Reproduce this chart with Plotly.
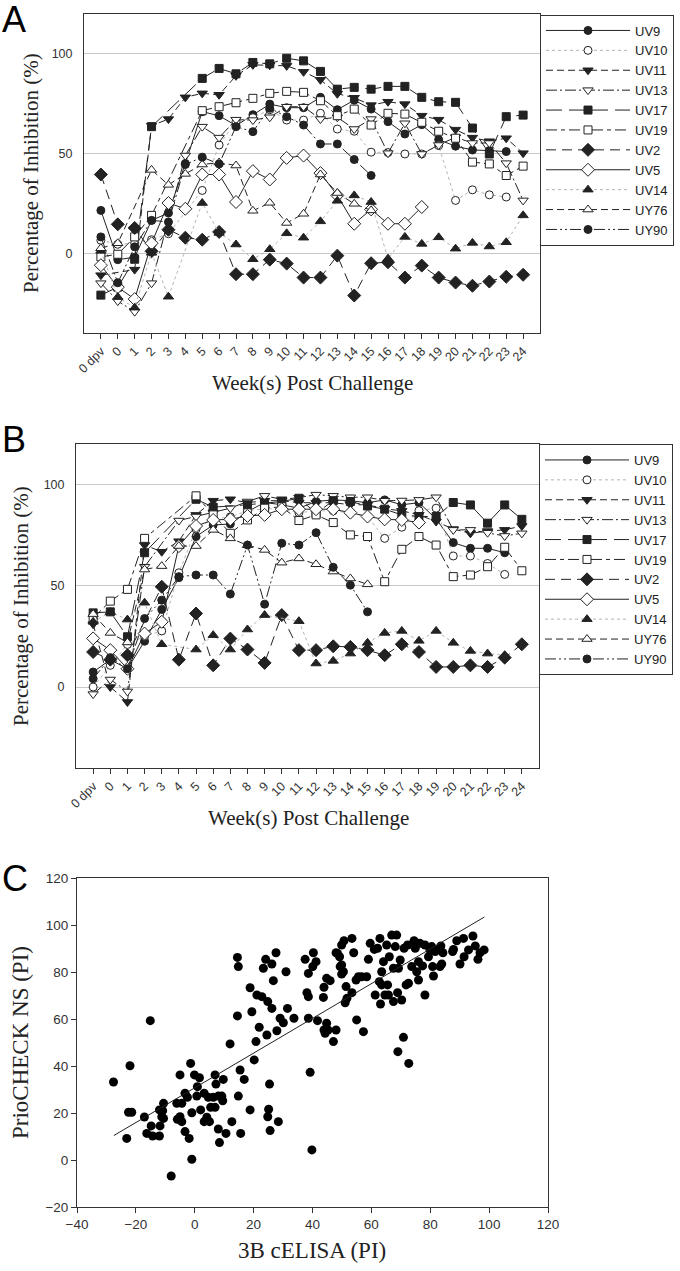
import plotly.graph_objects as go

N = None

# ---------------- categories / labels ----------------
categories = ["0 dpv", "0", "1", "2", "3", "4", "5", "6", "7", "8", "9", "10", "11",
              "12", "13", "14", "15", "16", "17", "18", "19", "20", "21", "22", "23", "24"]
series_names = ["UV9", "UV10", "UV11", "UV13", "UV17", "UV19", "UV2", "UV5", "UV14", "UY76", "UY90"]

# ---------------- Panel A values (% inhibition) ----------------
a_UV9 = [21.5, -3.2, -2, 16.5, 20.2, 45, 71, 69, 64, 69.5, 74.8, 73, 73, 78.2, 72, 76.8, 72.3, 66, 59.8, 64.5, 57, 53.7, 51.8, 51.5, 51, N]
a_UV10 = [6.5, 4.5, 5, 6.8, 9.8, N, 31.5, 54.3, 66, 68, 72, 66.8, 66.8, 70.2, 62.3, 61.2, 50.7, 50.5, 49.8, 49.8, 54, 26.5, 31.8, 29.3, 28.2, N]
a_UV11 = [-11, N, -8.2, 64, 67.3, 78.2, 80.2, 79.5, 89, 94.5, 94.3, 94, 91, 87, 80, 78, 74.3, 76, 74.8, 69, 67, 62, 58, 56.2, 57.7, 50.2]
a_UV13 = [-15, -24, -29.3, -15, N, 49, 63.5, 58, 67, 66.8, 68.2, 73.5, 73.5, 67.3, 68.2, 62.3, 67.3, 50.2, 65.2, 49.8, 54.3, 58.2, 55.3, 55.3, 45.2, 26.5]
a_UV17 = [-21, -17, -3, 63.5, N, N, 87.7, 92.7, 90, 95.7, 95, 97.8, 96.5, 91.2, 82.3, 83.2, 82.3, 83.7, 83.7, 78.2, 76, 75.7, 62.8, 49.8, 68.5, 69.3]
a_UV19 = [-1.8, -0.5, 8.2, 19, N, N, 71.5, 73.5, 75.5, 77.7, 80.2, 81.2, 80.7, 76.5, 69, 72.3, 64.3, 70.2, 69.8, 65.7, 61.2, 57.7, 45.7, 44.8, 39, 43.7]
a_UV2 = [39.5, 14.5, 12.7, 1, 11.8, 7.8, 6.8, 10.7, -10.5, -10.5, -3.2, -5.2, -12.2, -12.2, -1.2, -21.2, -5, -4.5, -12.2, -6.2, -12.2, -14.7, -16.3, -14.2, -11.8, -10.8]
a_UV5 = [-6, -17, -23, 5, 25.2, 22.3, 39.5, 39.5, 25.7, 41.2, 37, 47.8, 49, 40.2, 29, 14.8, 22, 14.8, 14.8, 23.2, N, N, N, N, N, N]
a_UV14 = [1.2, -22, -27.3, 0.2, -21.8, N, 25.2, 10.2, 4.4, -3, 2, 10, 7.8, 16, 26.3, 29, 25.7, -2.7, 8.2, 4.7, 8, 2.3, 5.2, 3.4, 5.5, 19]
a_UY76 = [2.5, 5, N, 41.8, 34.3, 39.8, 44.5, 45.5, 44, 21.3, 25.3, 15.2, 19.8, 39.5, 30.2, 24.8, 21.5, N, N, N, N, N, N, N, N, N]
a_UY90 = [8.2, -14.8, 3.2, 16.5, 15.7, 44.5, 48.2, 44.8, 63.5, 61, 72.7, 68.5, 64.3, 54.8, 54.8, 47, 39, N, N, N, N, N, N, N, N, N]

# ---------------- Panel B values (% inhibition) ----------------
b_UV9 = [7.4, 13.5, 9, 22.6, 38.3, 54, 74.3, 80, 80.5, 86.6, 91.1, 90, 88.3, 91.6, 92.4, 92, 91, 92.4, 90, 91, 83, 71.3, 68.5, 68.5, 66.3, N]
b_UV10 = [0, 10.7, 21, 25, 27.7, 56.4, 78, 83, 84, 87, 88, 88, 86.1, 87, 87, 86, 84.2, 73.4, 78.9, 87.1, 88.3, 64.7, 64.7, 61, 55.6, N]
b_UV11 = [31, 0, -7.4, 70.1, 66.8, 72, 85, 92, 92.7, 91, 92, 92, 91, 91, 91, 90, 90, 88, 87, 85, 81.7, 78, 75.9, 77, 77.6, 79.5]
b_UV13 = [-3.5, 3.7, -2.2, 59.4, N, 82.2, 84.2, 86, 88.3, 91.6, 94.4, 92.7, 93.5, 95, 94.4, 93.7, 93.7, 92, 92.1, 92.4, 93.7, 77.6, 77.6, 76.2, 74.6, 75.9]
b_UV17 = [36.6, 37.1, 24.8, 66.3, N, N, 92.7, 88.8, N, 90, 90.8, 91.6, 93.2, 85.8, 92, 91.6, 89.4, 87.8, 85, 84.2, 84.2, 91.1, 89.9, 80.9, 89.9, 82.8]
b_UV19 = [34, 42.4, 48.2, 73.4, N, N, 94.4, 85, 75.9, 82.5, 88.3, 89, 82.2, 85, 81.2, 75.1, 74.3, 52, 68, 74.3, 70.1, 54.5, 55.3, 59.4, 69, 57.4]
b_UV2 = [17.3, 13.5, 15.7, N, 49.5, 13.5, 36.3, 10.7, 23.9, 18.5, 11.9, 35.5, 18.2, 18.2, 20.1, 19.8, 18.2, 15.7, 21.1, 17.3, 9.9, 9.9, 10.7, 9.9, 14.5, 21.1]
b_UV5 = [24, 18.2, 9, 26.4, 32.2, 69.6, 79.5, 82.5, 82.8, 84.5, 85, 87.8, 87.8, 87.8, 87.8, 86.1, 84.2, 82.8, 82.5, 81.2, N, N, N, N, N, N]
b_UV14 = [32.2, 37, 33.3, 41.6, 21.1, N, 18.5, 25.6, 18.5, 28.4, 35.5, N, 32.5, 11.6, 12.9, 16.5, 21.8, 26.7, 27.7, 22.8, 27.7, 21.8, 17.8, 16.5, 15.7, N]
b_UY76 = [36, 26.7, 22, 58, 59.7, 69.6, 69.6, 77.6, 73.4, 70, 67.7, 61.4, 63.5, 60.6, 57, 53.6, 50.7, N, N, N, N, N, N, N, N, N]
b_UY90 = [4.1, 14.5, 9, 33.8, 42.9, 54.5, 55.3, 55.3, 45.9, 70.1, 40.9, 71, 70.1, 76.2, 59.1, 50.3, 37.1, N, N, N, N, N, N, N, N, N]

# ---------------- Panel C values ----------------
c_x = [-27.6, -23.1, -22, -22.5, -21.4, -17.1, -16.3, -15.1, -14.8, -14.3, -12, -12, -11.8, -10.6, -10.6,
       -10.9, -11.2, -8, -5, -6.1, -4.4, -5.9, -4.4, -5, -3.3, -3.3, -2.5, -1.9, -1.4, -1, -1, -0.1, 0.7,
       0.9, 1.6, 2, 3.2, 3.2, 4.1, 4.6, 5, 5.4, 6.3, 6.9, 7.2, 6.9, 8, 8, 8.4, 9.2, 9.5, 9.7, 10.6, 12,
       12.6, 14.5, 14.8, 14.5, 14.8, 15.4, 15.6, 16.8, 18.8, 19.4, 18.8, 20.2, 20.8, 21.1, 21.9, 22.8,
       23.3, 24.1, 24.5, 24.8, 25.1, 24.8, 25.4, 25.6, 26.2, 26.2, 26.7, 27.6, 27.9, 28.4, 29, 30.1, 31,
       31.5, 33.7,
       37.5, 38.6, 38.1, 38.6, 38.6, 39.2, 39.8, 40.1, 40.3, 41.2, 41.7, 43.7, 43.9, 43.9, 44.3, 44.8,
       44.8, 45.3, 46, 47.1, 48, 48, 48.5, 49.2, 49.4, 49.9, 49.9, 50.5, 49.9, 50.7, 51.4, 51.1, 51.7,
       53.4, 53.4, 54, 55, 54.8, 55.6, 56.7, 57.3, 58.4, 59, 59.6, 61, 61.3, 62.1, 62.9, 62.7, 63.1,
       63.5, 63.5, 64.1, 64.6, 65.2, 65.5, 65.8, 66.1, 66.9, 67.5, 67.5, 68.1, 68.6, 68.9, 69, 69.2,
       69.8, 70.3, 70.9, 71.1, 71.8, 72.3, 72.6, 72.7, 73.7, 74.5, 74.9, 75.4, 76, 76, 76.5, 77.4, 78.2,
       78.2, 79.4, 79.9, 80.5, 80.8, 81.1, 81.7, 82.8, 83.6, 83.9, 84.3, 83.3, 87.6, 87.9, 89, 90.1,
       91.3, 91.5, 93, 94.5, 95.3, 96.2, 96.9, 98.3]
c_y = [33.2, 9.2, 40.1, 20.3, 20.3, 18.3, 11.3, 59.3, 14.5, 10.2, 10.2, 21.3, 14.5, 24.1, 17.7,
       21, 18.4, -6.8, 36.2, 24.1, 24.1, 17.3, 16.3, 18.4, 28.4, 12.1, 26.7, 9.2, 41.1, 20.1, 0.3, 36.2, 27.2,
       31.2, 35, 21.3, 28.4, 16.3, 18.2, 26.7, 16.3, 22.4, 26.7, 36.2, 32.3, 22.4, 13.2, 27.2, 7.4, 27.2, 25.2, 34.3, 11.3, 49.4,
       16.3, 86.2, 82.3, 61.3, 27.2, 38.3, 11.3, 34.3, 73.3, 63.1, 21.3, 42.6, 50.4, 70.2, 56.5, 69.5,
       81.6, 85.4, 53.2, 67.4, 21.6, 18.4, 32.3, 12.5, 83.4, 64.5, 76.3, 88.2, 55, 16.3, 60.3, 58.4, 80.1,
       64.5, 60.3,
       85.4, 79.4, 71.2, 69.5, 60.3, 37.3, 4.3, 82.3, 88.2, 84.4, 59.3, 69.2, 73.5, 55.3, 53.9, 58.2,
       77.3, 55.3, 76.3, 50.4, 55.3, 88.2, 87.9, 86.5, 82.3, 79.1, 83, 80.1, 91.5, 93.3, 73.8, 66.9, 68.8,
       94.3, 71.2, 88.2, 59.6, 76.6, 78, 78, 54.6, 78, 85.4, 92.2, 89.6, 70.2, 90.1, 94.3, 75.9, 66.4,
       80.1, 74.5, 84.4, 70.2, 91.5, 74.5, 70.2, 86.5, 95.7, 67.4, 81.6, 90.8, 95.7, 71.2, 46.1, 81.6,
       85.1, 68.1, 52.2, 90.1, 74.5, 91.5, 75.2, 41.1, 82.3, 93.3, 90.1, 80.1, 76.6, 84.4, 92.2, 82.6, 70.2,
       91.5, 86.5, 89.4, 90.8, 82.3, 78.3, 88.7, 89.6, 91.1, 83.4, 88.2, 82.3, 88.7, 89.6, 93.3, 83.4,
       94.3, 86.5, 89.4, 95.3, 91.1, 85.4, 88.2, 89.4]
fit_x = [-27.5, 98.4]
fit_y = [10.4, 103.4]

# ---------------- styles ----------------
DARK = "#222222"
GRAYDOT = "#b4b4b4"
styles = {
    "UV9":  dict(symbol="circle", fill=DARK, dash="solid", lc=DARK, size=8),
    "UV10": dict(symbol="circle", fill="white", dash="dot", lc=GRAYDOT, size=8),
    "UV11": dict(symbol="triangle-down", fill=DARK, dash="7px,4px", lc=DARK, size=9),
    "UV13": dict(symbol="triangle-down", fill="white", dash="11px,3px,2px,3px", lc=DARK, size=9),
    "UV17": dict(symbol="square", fill=DARK, dash="16px,7px", lc=DARK, size=8),
    "UV19": dict(symbol="square", fill="white", dash="11px,4px,4px,4px", lc=DARK, size=8),
    "UV2":  dict(symbol="diamond", fill=DARK, dash="10px,6px", lc=DARK, size=10),
    "UV5":  dict(symbol="diamond", fill="white", dash="solid", lc=DARK, size=10),
    "UV14": dict(symbol="triangle-up", fill=DARK, dash="dot", lc=GRAYDOT, size=9),
    "UY76": dict(symbol="triangle-up", fill="white", dash="7px,4px", lc=DARK, size=9),
    "UY90": dict(symbol="circle", fill=DARK, dash="11px,3px,2px,3px,2px,3px", lc=DARK, size=8),
}

panel_a = [a_UV9, a_UV10, a_UV11, a_UV13, a_UV17, a_UV19, a_UV2, a_UV5, a_UV14, a_UY76, a_UY90]
panel_b = [b_UV9, b_UV10, b_UV11, b_UV13, b_UV17, b_UV19, b_UV2, b_UV5, b_UV14, b_UY76, b_UY90]

fig = go.Figure()


def add_panel(values_list, xa, ya, legend_name):
    for name, vals in zip(series_names, values_list):
        s = styles[name]
        fig.add_trace(go.Scatter(
            x=categories, y=vals, name=name, mode="lines+markers",
            connectgaps=True, xaxis=xa, yaxis=ya, legend=legend_name,
            line=dict(color=s["lc"], width=1, dash=s["dash"]),
            marker=dict(symbol=s["symbol"], size=s["size"], color=s["fill"],
                        line=dict(color=DARK, width=1)),
        ))


add_panel(panel_a, "x", "y", "legend")
add_panel(panel_b, "x2", "y2", "legend2")

fig.add_trace(go.Scatter(x=c_x, y=c_y, mode="markers", xaxis="x3", yaxis="y3", showlegend=False,
                         marker=dict(symbol="circle", size=9, color="black")))
fig.add_trace(go.Scatter(x=fit_x, y=fit_y, mode="lines", xaxis="x3", yaxis="y3", showlegend=False,
                         line=dict(color=DARK, width=1)))

W, H = 680, 1271
SANS = "Liberation Sans, Arial, sans-serif"
SERIF = "Liberation Serif, Times New Roman, serif"
AX = "#333333"


def px_x(p):
    return p / W


def px_y(p):
    return 1 - p / H


cat_axis = dict(type="category", categoryorder="array", categoryarray=categories,
                range=[-1, 26], tickmode="linear", tick0=0, dtick=1, tickangle=-45,
                ticks="outside", ticklen=5, tickcolor=AX, showline=True, linecolor=AX,
                linewidth=1, mirror=True, showgrid=False, zeroline=False, automargin=False,
                tickfont=dict(family=SANS, size=12.5, color=AX))
pct_axis = dict(range=[-40, 120], tickmode="array", tickvals=[0, 50, 100], showgrid=True,
                gridcolor="#c8c8c8", gridwidth=1, ticks="", showline=True, linecolor=AX,
                linewidth=1, mirror=True, zeroline=False, ticklabelstandoff=8, automargin=False,
                tickfont=dict(family=SANS, size=12.5, color=AX))

legend_common = dict(xanchor="left", yanchor="top", bgcolor="white", bordercolor=AX,
                     borderwidth=1, itemwidth=84, tracegroupgap=0, entrywidth=49,
                     entrywidthmode="pixels", itemclick=False, itemdoubleclick=False,
                     font=dict(family=SANS, size=13, color=DARK))

fig.update_layout(
    width=W, height=H, margin=dict(l=0, r=0, t=0, b=0, pad=0, autoexpand=False),
    paper_bgcolor="white", plot_bgcolor="white", hovermode=False,
    xaxis=dict(cat_axis, domain=[px_x(84), px_x(540)], anchor="y"),
    yaxis=dict(pct_axis, domain=[px_y(333), px_y(14)], anchor="x"),
    xaxis2=dict(cat_axis, domain=[px_x(76), px_x(539)], anchor="y2"),
    yaxis2=dict(pct_axis, domain=[px_y(768), px_y(444)], anchor="x2"),
    xaxis3=dict(domain=[px_x(77), px_x(548)], anchor="y3", range=[-40, 120], tickmode="linear",
                tick0=-40, dtick=20, ticks="outside", ticklen=5, tickcolor=AX, showline=True,
                linecolor=AX, linewidth=1, mirror=True, showgrid=False, zeroline=False,
                automargin=False, tickfont=dict(family=SANS, size=13.5, color=AX)),
    yaxis3=dict(domain=[px_y(1207), px_y(878)], anchor="x3", range=[-20, 120], tickmode="linear",
                tick0=-20, dtick=20, ticks="outside", ticklen=5, tickcolor=AX, showline=True,
                linecolor=AX, linewidth=1, mirror=True, showgrid=False, zeroline=False,
                automargin=False, tickfont=dict(family=SANS, size=13.5, color=AX)),
    legend=dict(legend_common, x=px_x(540), y=px_y(14.5)),
    legend2=dict(legend_common, x=px_x(539), y=px_y(444)),
)

ann = []
# panel letters
for letter, ycen in (("A", 19.5), ("B", 439.5), ("C", 878)):
    ann.append(dict(text=letter, x=0, y=px_y(ycen), xref="paper", yref="paper", xanchor="left",
                    yanchor="middle", showarrow=False, font=dict(family=SANS, size=36, color="black")))
# axis titles
titles = [
    ("Percentage of Inhibition (%)", 31, 173, -90, 21),
    ("Week(s) Post Challenge", 312, 383, 0, 21),
    ("Percentage of Inhibition (%)", 21, 606, -90, 21),
    ("Week(s) Post Challenge", 308, 818, 0, 21),
    ("PrioCHECK NS (PI)", 20, 1043, -90, 23),
    ("3B cELISA (PI)", 312, 1250, 0, 23),
]
for t, xc, yc, ang, fs in titles:
    ann.append(dict(text=t, x=px_x(xc), y=px_y(yc), xref="paper", yref="paper", xanchor="center",
                    yanchor="middle", textangle=ang, showarrow=False,
                    font=dict(family=SERIF, size=fs, color=DARK)))
fig.update_layout(annotations=ann)

fig.write_html("out.html", config={"displayModeBar": False, "staticPlot": False},
               post_script="document.body.style.margin='0';document.body.style.overflow='hidden';")
